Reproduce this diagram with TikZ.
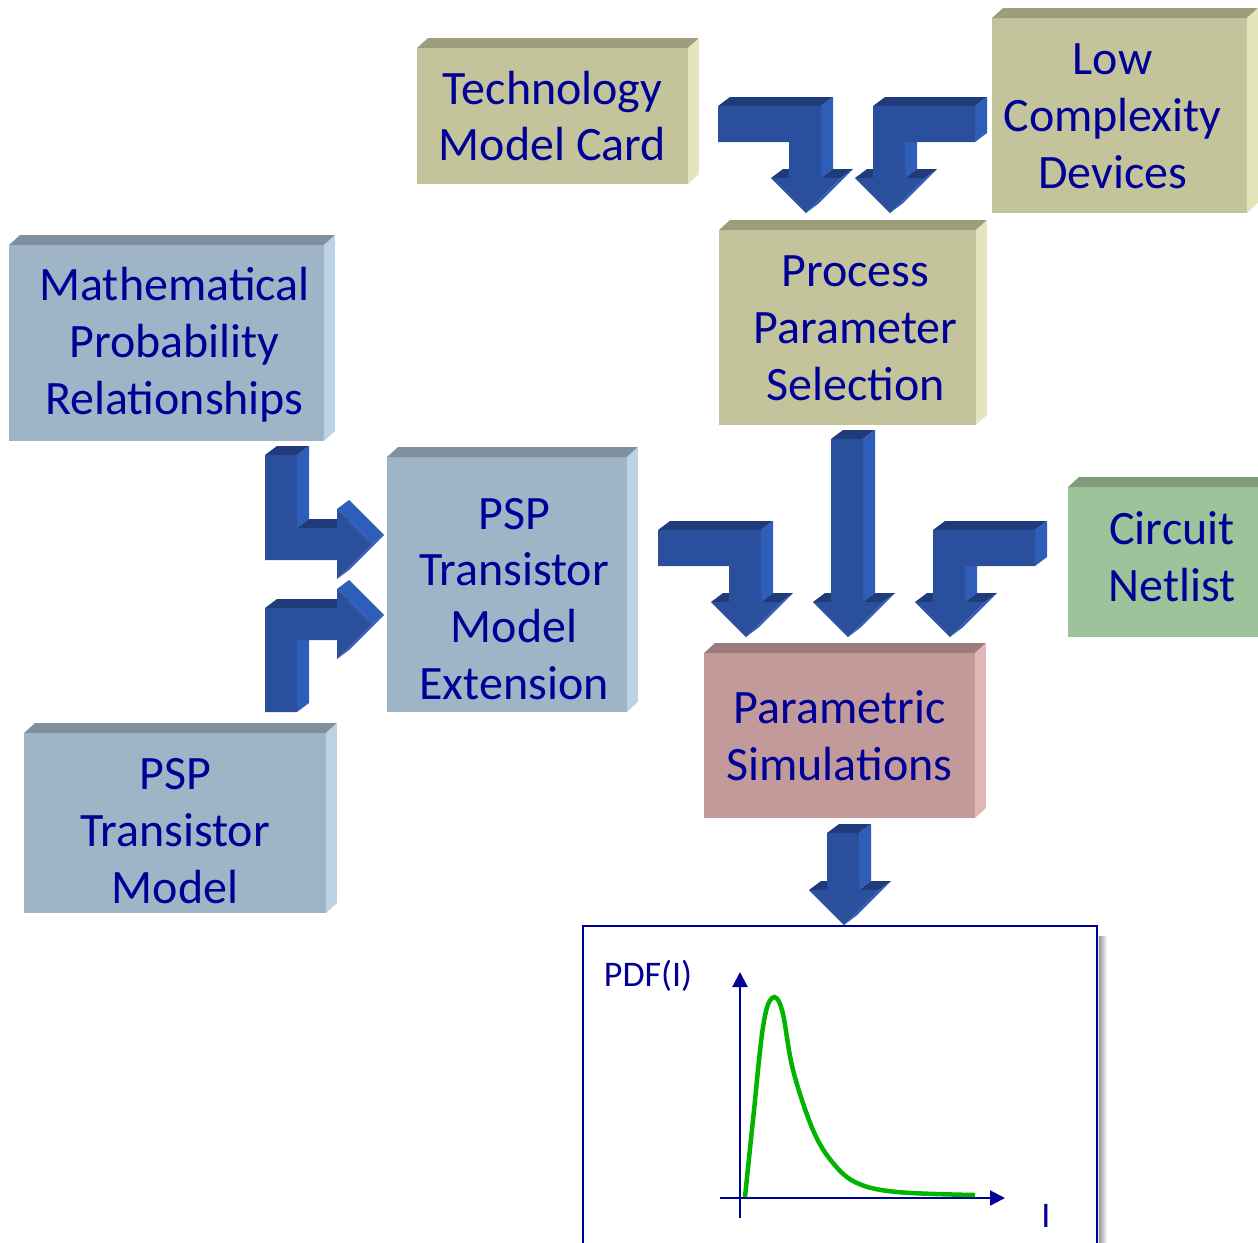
\documentclass[tikz,border=0pt]{standalone}
\usepackage{fontspec}
\setmainfont{Carlito}
\usetikzlibrary{arrows.meta,positioning}
\definecolor{ink}{HTML}{000096}
\definecolor{khaki}{HTML}{C4C49C}
\definecolor{khakiTop}{HTML}{9D9D7B}
\definecolor{khakiSide}{HTML}{E5E5BD}
\definecolor{steel}{HTML}{9FB4C6}
\definecolor{steelTop}{HTML}{7F909E}
\definecolor{steelSide}{HTML}{BBD3E5}
\definecolor{sage}{HTML}{9DC39B}
\definecolor{sageTop}{HTML}{7E9C7C}
\definecolor{sageSide}{HTML}{BDE3BB}
\definecolor{rose}{HTML}{C39A9A}
\definecolor{roseTop}{HTML}{9C7B7B}
\definecolor{roseSide}{HTML}{E3B5B5}
\definecolor{arrFront}{HTML}{2A4F9D}
\definecolor{arrTop}{HTML}{1F3B79}
\definecolor{arrSide}{HTML}{2F5DBA}
\definecolor{curve}{HTML}{00B400}

% top and right bevel of a block: node, top colour, side colour
\newcommand{\bevel}[3]{%
  \fill[#2] (#1.north west) -- (#1.north east) -- ([shift={(11,-10)}]#1.north east) -- ([shift={(11,-10)}]#1.north west) -- cycle;
  \fill[#3] (#1.north east) -- (#1.south east) -- ([shift={(11,-10)}]#1.south east) -- ([shift={(11,-10)}]#1.north east) -- cycle;}
% one extruded face of a block arrow
\newcommand{\face}[3]{\fill[#1] (#2) -- (#3) -- ([shift={(12,-9)}]#3) -- ([shift={(12,-9)}]#2) -- cycle;}

\tikzset{
  pics/downL/.style={code={
    \face{arrTop}{-88,-107}{15,-107}
    \face{arrSide}{15,-107}{15,-35}
    \face{arrTop}{15,-35}{35,-35}
    \face{arrTop}{-35,-35}{-17,-35}
    \face{arrSide}{35,-35}{0,0}
    \fill[arrFront] (-88,-107) -- (15,-107) -- (15,-35) -- (35,-35) -- (0,0) -- (-35,-35) -- (-17,-35) -- (-17,-71) -- (-88,-71) -- cycle;}},
  pics/downR/.style={code={
    \face{arrTop}{-17,-107}{85,-107}
    \face{arrSide}{85,-107}{85,-71}
    \face{arrSide}{15,-71}{15,-35}
    \face{arrTop}{15,-35}{35,-35}
    \face{arrTop}{-35,-35}{-17,-35}
    \face{arrSide}{35,-35}{0,0}
    \fill[arrFront] (-17,-107) -- (85,-107) -- (85,-71) -- (15,-71) -- (15,-35) -- (35,-35) -- (0,0) -- (-35,-35) -- (-17,-35) -- cycle;}},
  pics/downS/.style={code={
    \face{arrTop}{-17,-#1}{15,-#1}
    \face{arrSide}{15,-#1}{15,-35}
    \face{arrTop}{15,-35}{35,-35}
    \face{arrTop}{-35,-35}{-17,-35}
    \face{arrSide}{35,-35}{0,0}
    \fill[arrFront] (-17,-#1) -- (15,-#1) -- (15,-35) -- (35,-35) -- (0,0) -- (-35,-35) -- (-17,-35) -- cycle;}},
  pics/rightD/.style={code={
    \face{arrTop}{-107,-89}{-75,-89}
    \face{arrSide}{-75,-89}{-75,-16}
    \face{arrTop}{-75,-16}{-35,-16}
    \face{arrSide}{-35,-35}{0,0}
    \face{arrSide}{0,0}{-35,35}
    \fill[arrFront] (-107,-89) -- (-75,-89) -- (-75,-16) -- (-35,-16) -- (-35,-35) -- (0,0) -- (-35,35) -- (-35,16) -- (-107,16) -- cycle;}},
  pics/rightU/.style={code={
    \face{arrTop}{-107,-16}{-35,-16}
    \face{arrSide}{-75,16}{-75,88}
    \face{arrSide}{-35,-35}{0,0}
    \face{arrSide}{0,0}{-35,35}
    \fill[arrFront] (-107,-16) -- (-35,-16) -- (-35,-35) -- (0,0) -- (-35,35) -- (-35,16) -- (-75,16) -- (-75,88) -- (-107,88) -- cycle;}}
}

\begin{document}
\begin{tikzpicture}[
  x=0.02cm, y=-0.02cm,
  block/.style={inner sep=0pt, outer sep=0pt, align=center, text=ink, font=\fontsize{27.3}{32.4}\selectfont},
  tag/.style={align=center, text=ink, font=\fontsize{27.3}{32.4}\selectfont},
  small/.style={text=ink, inner sep=0pt, font=\fontsize{20.5}{24}\selectfont},
  plotbox/.style={draw=ink, line width=0.05cm, fill=white, inner sep=0pt, outer sep=0pt},
  axis/.style={draw=ink, line width=0.045cm, -{Triangle[length=3mm, width=3mm]}}
]
\useasboundingbox (0,0) rectangle (1258,1242);

% blocks
\node[block, fill=khaki, minimum width=5.42cm, minimum height=2.72cm] (tech) at (552.5,116) {Technology\\Model Card};
\node[block, fill=khaki, minimum width=5.10cm, minimum height=3.90cm] (low) at (1119.5,115.5) {};
\node[tag] (lowlabel) at ([shift={(-7,1)}]low.center) {Low\\Complexity\\Devices};
\node[block, fill=khaki, minimum width=5.14cm, minimum height=3.90cm] (proc) at (847.5,327.5) {};
\node[tag] (proclabel) at ([shift={(8,0.5)}]proc.center) {Process\\Parameter\\Selection};
\node[block, fill=steel, minimum width=6.30cm, minimum height=3.92cm] (math) at (166.5,343) {};
\node[tag] (mathlabel) at ([shift={(8,1.5)}]math.center) {Mathematical\\Probability\\Relationships};
\node[block, fill=steel, minimum width=4.80cm, minimum height=5.10cm] (ext) at (507,584.5) {};
\node[tag] (extlabel) at ([shift={(7,14.5)}]ext.center) {PSP\\Transistor\\Model\\Extension};
\node[block, fill=steel, minimum width=6.04cm, minimum height=3.60cm] (psp) at (175,823) {};
\node[tag] (psplabel) at ([shift={(0,8)}]psp.center) {PSP\\Transistor\\Model};
\node[block, fill=sage, minimum width=4.16cm, minimum height=3.00cm] (net) at (1172,562) {};
\node[tag] (netlabel) at ([shift={(0,-5)}]net.center) {Circuit\\Netlist};
\node[block, fill=rose, minimum width=5.42cm, minimum height=3.30cm] (sim) at (839.5,735.5) {Parametric\\Simulations};

\bevel{tech}{khakiTop}{khakiSide}
\bevel{low}{khakiTop}{khakiSide}
\bevel{proc}{khakiTop}{khakiSide}
\bevel{math}{steelTop}{steelSide}
\bevel{ext}{steelTop}{steelSide}
\bevel{psp}{steelTop}{steelSide}
\bevel{net}{sageTop}{sageSide}
\bevel{sim}{roseTop}{roseSide}

% result plot
\node[plotbox, minimum width=10.28cm, minimum height=7cm, anchor=north] (plot) at (840,926) {};
\fill[left color=black!40, right color=white] ([shift={(2,10)}]plot.north east) rectangle ([shift={(10,0)}]plot.south east);
\coordinate (orig) at (740,1198);
\draw[axis] ([shift={(0,20)}]orig) -- ([shift={(0,-226)}]orig);
\draw[axis] ([shift={(-20,0)}]orig) -- ([shift={(265,0)}]orig);
\draw[curve, line width=0.09cm] plot[smooth, tension=0.6] coordinates {(745,1197) (753,1120) (763,1027) (772,998) (782,1010) (793,1070) (813,1130) (833,1163) (857,1183) (897,1192) (975,1195)};
\node[small] (pdf) at (648,976) {PDF(I)};
\node[small] (curr) at (1046,1216) {I};

% block arrows
\pic at ([shift={(-41.5,-17)}]proc.north) {downL};
\pic at ([shift={(42.5,-17)}]proc.north) {downR};
\pic at ([shift={(-93.5,-16)}]sim.north) {downL};
\pic at ([shift={(8.5,-16)}]sim.north) {downS=198};
\pic at ([shift={(110.5,-16)}]sim.north) {downR};
\pic at ([shift={(4,-1)}]plot.north) {downS=92};
\pic at ([shift={(-15,-40.5)}]ext.west) {rightD};
\pic at ([shift={(-15,39.5)}]ext.west) {rightU};
\end{tikzpicture}
\end{document}
